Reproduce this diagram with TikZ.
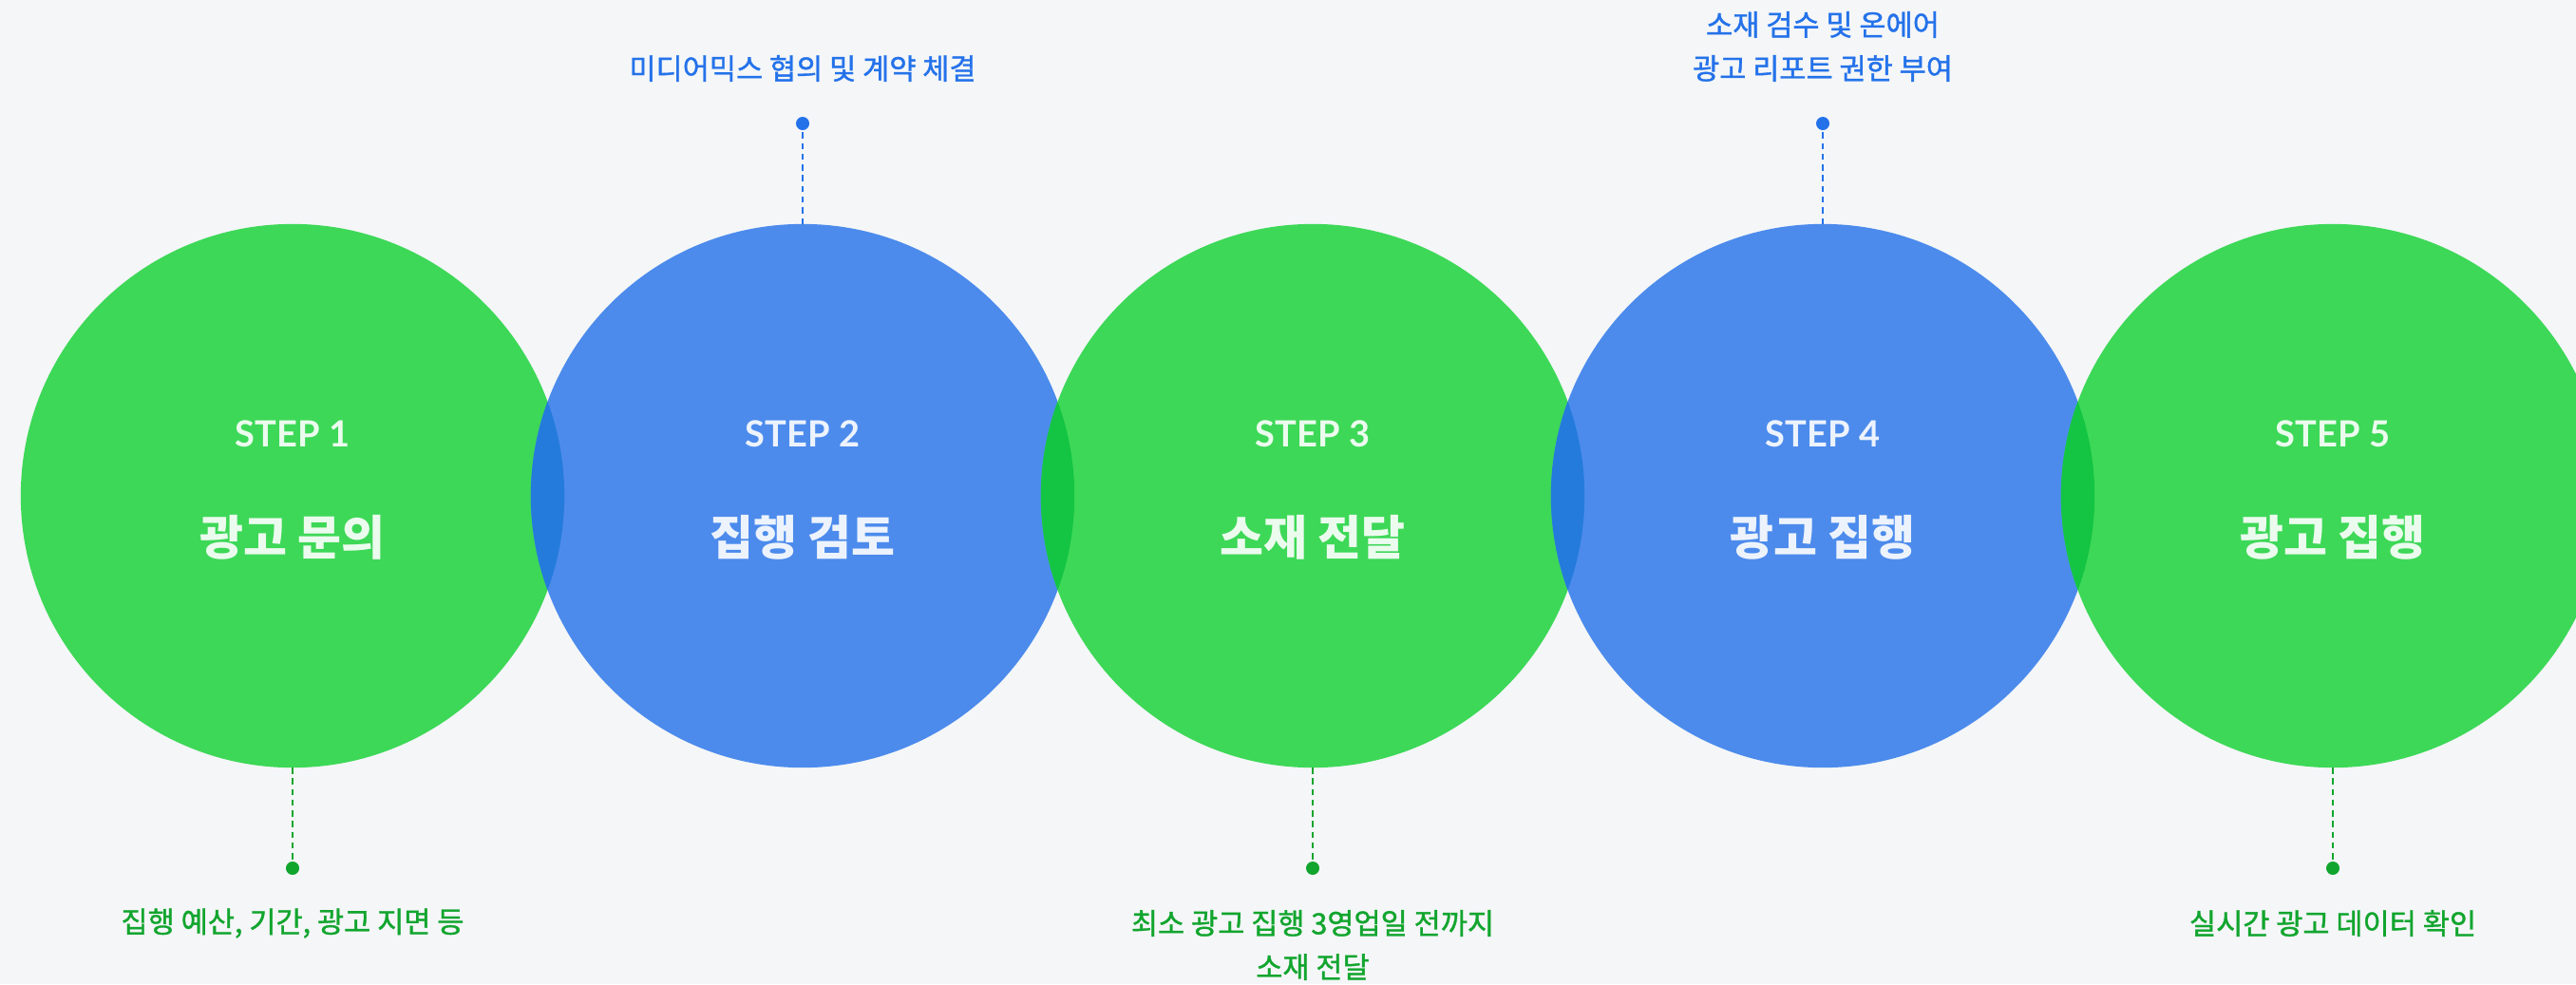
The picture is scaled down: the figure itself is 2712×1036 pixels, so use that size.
\documentclass[tikz,border=0pt]{standalone}
\usepackage{fontspec}
\newfontfamily\kr{Noto Sans CJK KR}
\newfontfamily\krm[FakeBold=1.2]{Noto Sans CJK KR}
\newfontfamily\lato{Lato}
\definecolor{bg}{HTML}{F4F6F8}
\definecolor{cgreen}{HTML}{3DD857}
\definecolor{cblue}{HTML}{4C8BEC}
\definecolor{ovblue}{HTML}{247BDB}
\definecolor{ovgreen}{HTML}{14C443}
\definecolor{tgreen}{HTML}{12A52E}
\definecolor{tblue}{HTML}{2472EA}
\begin{document}
\begin{tikzpicture}[x=0.01cm,y=-0.01cm,
  stepcircle/.style={circle, minimum size=5.72cm, inner sep=0pt, outer sep=0pt},
  gcirc/.style={stepcircle, fill=cgreen},
  bcirc/.style={stepcircle, fill=cblue},
  steplbl/.style={text=white, text opacity=0.9, font=\lato\bfseries\fontsize{10.8pt}{12pt}\selectfont, inner sep=0pt},
  titlelbl/.style={text=white, text opacity=0.9, font=\kr\bfseries\fontsize{14.2pt}{16pt}\selectfont, inner sep=0pt},
  dotg/.style={circle, fill=tgreen, minimum size=0.14cm, inner sep=0pt},
  dotb/.style={circle, fill=tblue, minimum size=0.14cm, inner sep=0pt},
  dashg/.style={draw=tgreen, line width=0.65pt, dash pattern=on 1.8pt off 1.4pt},
  dashb/.style={draw=tblue, line width=0.65pt, dash pattern=on 1.8pt off 1.4pt},
  descg/.style={text=tgreen, font=\krm\fontsize{8.7pt}{13.1pt}\selectfont, align=center, inner sep=0pt},
  descb/.style={text=tblue, font=\krm\fontsize{8.7pt}{13.1pt}\selectfont, align=center, inner sep=0pt}]
\useasboundingbox (0,0) rectangle (2712,1036);
\fill[bg] (0,0) rectangle (2712,1036);
% circles
\node[gcirc] (c1) at (308,522) {};
\node[bcirc] (c2) at (845,522) {};
\node[gcirc] (c3) at (1382,522) {};
\node[bcirc] (c4) at (1919,522) {};
\node[gcirc] (c5) at (2456,522) {};
% overlaps
\begin{scope}
  \clip (308,522) circle[radius=2.86cm];
  \fill[ovblue] (845,522) circle[radius=2.86cm];
\end{scope}
\begin{scope}
  \clip (845,522) circle[radius=2.86cm];
  \fill[ovgreen] (1382,522) circle[radius=2.86cm];
\end{scope}
\begin{scope}
  \clip (1382,522) circle[radius=2.86cm];
  \fill[ovblue] (1919,522) circle[radius=2.86cm];
\end{scope}
\begin{scope}
  \clip (1919,522) circle[radius=2.86cm];
  \fill[ovgreen] (2456,522) circle[radius=2.86cm];
\end{scope}
% circle labels
\node[steplbl] (s1) at (308,457) {STEP 1};
\node[steplbl] (s2) at (845,457) {STEP 2};
\node[steplbl] (s3) at (1382,457) {STEP 3};
\node[steplbl] (s4) at (1919,457) {STEP 4};
\node[steplbl] (s5) at (2456,457) {STEP 5};
\node[titlelbl] (t1) at (308,566) {광고 문의};
\node[titlelbl] (t2) at (845,566) {집행 검토};
\node[titlelbl] (t3) at (1382,566) {소재 전달};
\node[titlelbl] (t4) at (1919,566) {광고 집행};
\node[titlelbl] (t5) at (2456,566) {광고 집행};
% callouts
\node[dotg] (d1) at (308,914) {};
\node[dotb] (d2) at (845,130) {};
\node[dotg] (d3) at (1382,914) {};
\node[dotb] (d4) at (1919,130) {};
\node[dotg] (d5) at (2456,914) {};
\draw[dashg] (c1.south) -- (d1);
\draw[dashb] (c2.north) -- (d2);
\draw[dashg] (c3.south) -- (d3);
\draw[dashb] (c4.north) -- (d4);
\draw[dashg] (c5.south) -- (d5);
\node[descg] (l1) at (308,972) {집행 예산, 기간, 광고 지면 등};
\node[descb] (l2) at (845,72) {미디어믹스 협의 및 계약 체결};
\node[descg] (l3) at (1382,995) {최소 광고 집행 3영업일 전까지\\소재 전달};
\node[descb] (l4) at (1919,49) {소재 검수 및 온에어\\광고 리포트 권한 부여};
\node[descg] (l5) at (2456,972) {실시간 광고 데이터 확인};
\end{tikzpicture}
\end{document}
